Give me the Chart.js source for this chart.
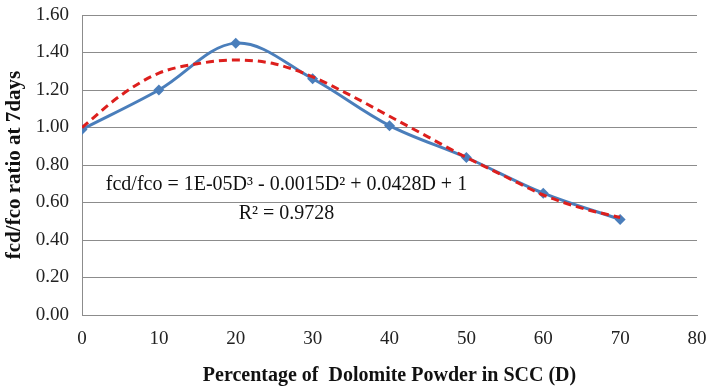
<!DOCTYPE html>
<html>
<head>
<meta charset="utf-8">
<script src="https://cdn.jsdelivr.net/npm/chart.js@4"></script>
<style>
  html, body { margin: 0; padding: 0; background: #fff; }
  #wrap { width: 708px; height: 388px; position: relative; }
</style>
</head>
<body>
<div id="wrap"><canvas id="c" width="708" height="388"></canvas></div>
<script>
// measured series (D in %, ratio fcd/fco at 7 days)
const dosage = [0, 10, 20, 30, 40, 50, 60, 70];
const ratio = [0.99, 1.20, 1.45, 1.26, 1.01, 0.84, 0.65, 0.51];

// polynomial trendline
const trendD = [0, 5, 10, 15, 20, 25, 30, 35, 40, 45, 50, 55, 60, 65, 70];
const trendRatio = [1.00, 1.17, 1.29, 1.34, 1.36, 1.34, 1.27, 1.17, 1.06, 0.95, 0.84, 0.74, 0.64, 0.57, 0.52];

const xTicks = [0, 10, 20, 30, 40, 50, 60, 70, 80];
const yTicks = [0, 0.2, 0.4, 0.6, 0.8, 1.0, 1.2, 1.4, 1.6];

const eqLine1 = "fcd/fco = 1E-05D³ - 0.0015D² + 0.0428D + 1";
const eqLine2 = "R² = 0.9728";

const serif = "'Liberation Serif', 'Times New Roman', serif";
const BLUE = "#4a7ebb";
const RED = "#dd1f1d";
const GRID = "#8c8c8c";

const equationLabel = {
  id: "equationLabel",
  afterDatasetsDraw(chart) {
    const { ctx, scales } = chart;
    const cx = scales.x.getPixelForValue(26.6);
    ctx.save();
    ctx.fillStyle = "#111";
    ctx.textAlign = "center";
    ctx.textBaseline = "middle";
    ctx.font = "20px " + serif;
    ctx.fillText(eqLine1, cx, scales.y.getPixelForValue(0.693));
    ctx.fillText(eqLine2, cx, scales.y.getPixelForValue(0.54));
    ctx.restore();
  },
};

new Chart(document.getElementById("c").getContext("2d"), {
  type: "line",
  data: {
    datasets: [
      {
        data: dosage.map((x, i) => ({ x, y: ratio[i] })),
        borderColor: BLUE, backgroundColor: BLUE, borderWidth: 3,
        pointStyle: "rectRot", pointRadius: 5.5, pointBorderWidth: 0,
        tension: 0.35, order: 2,
      },
      {
        data: trendD.map((x, i) => ({ x, y: trendRatio[i] })),
        borderColor: RED, borderWidth: 3, borderDash: [8, 5],
        pointRadius: 0, cubicInterpolationMode: "monotone", order: 1,
      },
    ],
  },
  options: {
    responsive: false, animation: false, parsing: false,
    layout: { padding: { top: 15, right: 11, left: 0, bottom: 0 } },
    plugins: { legend: { display: false }, tooltip: { enabled: false } },
    scales: {
      x: {
        type: "linear", min: 0, max: 80,
        afterBuildTicks: (s) => { s.ticks = xTicks.map((v) => ({ value: v })); },
        afterFit: (s) => { s.height = 73; s.paddingLeft = 0; s.paddingRight = 0; },
        ticks: { color: "#222", font: { family: serif, size: 19 }, padding: 13 },
        grid: { display: false, drawTicks: false },
        border: { display: true, color: GRID, width: 1 },
        title: { display: true, text: "Percentage of  Dolomite Powder in SCC (D)",
          color: "#111", font: { family: serif, size: 20, weight: "bold" }, padding: { top: 6, bottom: 0 } },
      },
      y: {
        min: 0, max: 1.6,
        afterBuildTicks: (s) => { s.ticks = yTicks.map((v) => ({ value: v })); },
        afterFit: (s) => { s.width = 82; s.paddingTop = 0; s.paddingBottom = 0; },
        ticks: { color: "#222", font: { family: serif, size: 19 }, padding: 13,
          callback: (v) => Number(v).toFixed(2) },
        grid: { color: GRID, lineWidth: 1, drawTicks: false },
        border: { display: true, color: GRID, width: 1 },
        title: { display: true, text: "fcd/fco ratio at 7days",
          color: "#111", font: { family: serif, size: 21, weight: "bold" }, padding: { top: 2, bottom: 0 } },
      },
    },
  },
  plugins: [equationLabel],
});
</script>
</body>
</html>
